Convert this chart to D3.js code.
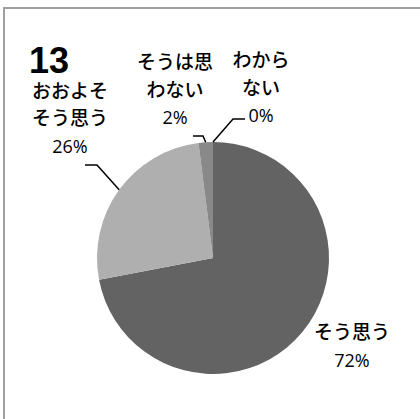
<!DOCTYPE html>
<html>
<head>
<meta charset="utf-8">
<script src="https://cdn.jsdelivr.net/npm/d3@7"></script>
<style>
  body { margin: 0; background: #fff; }
  text { font-family: "Open Sans", "Noto Sans CJK JP", sans-serif; fill: #000; }
</style>
</head>
<body>
<svg id="chart"></svg>
<script>
const width = 420;
const height = 419;

const chartNumber = "13";
const categories = ["そう思う", "おおよそ\nそう思う", "そうは思\nわない", "わから\nない"];
const values = [72, 26, 2, 0];
const colors = ["#636363", "#afafaf", "#898989", "#7a7a7a"];

// label layout: centre x, first line centre y, elbow and end of leader line
const labelLayout = [
  { x: 352, y: 332, line: null },
  { x: 70, y: 90.5, line: { elbow: [97, 165], end: [85, 165] } },
  { x: 175, y: 62, line: { elbow: [203, 136], end: [193, 136] } },
  { x: 261, y: 60, line: { elbow: [233, 119], end: [245, 119] } }
];

const cx = 213, cy = 258, radius = 116;
const lineGap = 27.5;

const svg = d3.select("#chart")
  .attr("width", width)
  .attr("height", height);

// outer frame (right and bottom edges run off the picture)
svg.append("rect")
  .attr("x", 4)
  .attr("y", 8)
  .attr("width", 440)
  .attr("height", 440)
  .attr("fill", "none")
  .attr("stroke", "#a0a0a0")
  .attr("stroke-width", 2);

svg.append("text")
  .attr("x", 29)
  .attr("y", 72.5)
  .attr("font-size", 36)
  .attr("font-weight", "bold")
  .style("font-family", "'Liberation Sans', sans-serif")
  .text(chartNumber);

const pie = d3.pie().sort(null).value(d => d)(values);
const arc = d3.arc().innerRadius(0).outerRadius(radius);

const g = svg.append("g").attr("transform", `translate(${cx},${cy})`);

g.selectAll("path")
  .data(pie)
  .join("path")
  .attr("d", arc)
  .attr("fill", (d, i) => colors[i]);

// leader lines from the middle of each slice's outer edge
pie.forEach((d, i) => {
  const lay = labelLayout[i];
  if (!lay.line) return;
  const mid = (d.startAngle + d.endAngle) / 2;
  const p0 = [cx + radius * Math.sin(mid), cy - radius * Math.cos(mid)];
  svg.append("polyline")
    .attr("points", [p0, lay.line.elbow, lay.line.end].map(p => p.join(",")).join(" "))
    .attr("fill", "none")
    .attr("stroke", "#000")
    .attr("stroke-width", 1.5);
});

categories.forEach((c, i) => {
  const lay = labelLayout[i];
  const lines = c.split("\n");
  const t = svg.append("text")
    .attr("text-anchor", "middle");
  lines.forEach((s, j) => {
    t.append("tspan")
      .attr("x", lay.x)
      .attr("y", lay.y + j * lineGap)
      .attr("dominant-baseline", "central")
      .attr("font-size", 19)
      .attr("font-weight", 500)
      .text(s);
  });
  t.append("tspan")
    .attr("x", lay.x)
    .attr("y", lay.y + lines.length * lineGap)
    .attr("dominant-baseline", "central")
    .attr("font-size", 18)
    .text(values[i] + "%");
});
</script>
</body>
</html>
